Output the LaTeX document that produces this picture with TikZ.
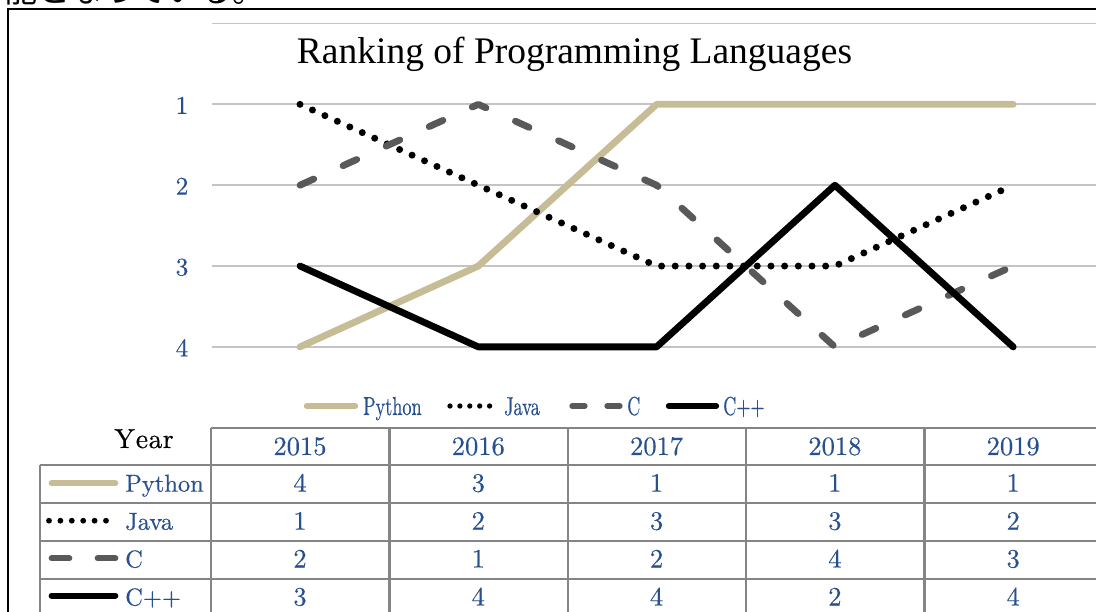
\documentclass[tikz,border=0pt]{standalone}
\usepackage{fontspec}
\newfontfamily\titlefont{Liberation Serif}
\newfontfamily\jpfont{Noto Sans CJK JP}
\newfontfamily\numfont{lmroman10-regular}[Extension=.otf, FakeBold=0.4]
\definecolor{pytan}{HTML}{C6BD96}
\definecolor{cgray}{HTML}{595959}
\definecolor{gridgray}{HTML}{C4C4C4}
\definecolor{tblgray}{HTML}{858585}
\definecolor{numblue}{HTML}{28508F}
\tikzset{
  gridline/.style={draw=gridgray, line width=1.8pt},
  tblline/.style={draw=tblgray, line width=2.2pt},
  pyline/.style={draw=pytan, line width=6.8pt, line cap=round, line join=round},
  javaline/.style={draw=black, line width=7pt, line cap=round, dash pattern=on 0pt off 13.673pt},
  cline/.style={draw=cgray, line width=6.8pt, line cap=round, line join=round, dash pattern=on 15pt off 32.3pt},
  cppline/.style={draw=black, line width=6.8pt, line cap=round, line join=round},
  numtxt/.style={text=numblue, inner sep=0pt, anchor=base, font=\numfont\fontsize{26.5}{30}\selectfont},
  axtxt/.style={text=numblue, inner sep=0pt, anchor=base, font=\numfont\fontsize{25.5}{30}\selectfont},
  legtxt/.style={text=numblue, inner sep=0pt, anchor=base west, font=\numfont\fontsize{24.5}{30}\selectfont},
  chartleg/.style={text=numblue, inner sep=0pt, anchor=base west, font=\numfont\fontsize{26}{30}\selectfont},
}
\newcommand{\condensed}[1]{\scalebox{0.7}[1]{#1}}
\begin{document}
\begin{tikzpicture}[x=1pt, y=-1pt]
\useasboundingbox (0,0) rectangle (1096,612);
\clip (0,0) rectangle (1096,612);

% running text above the frame
\node[anchor=base west, inner sep=0pt, font=\jpfont\fontsize{33}{36}\selectfont] (jp) at (-29,2.5) {可能となっている。};

% outer frame
\draw[line width=2pt] (8,640) -- (8,9.5) -- (1120,9.5);

% horizontal gridlines (rank 0 to 4)
\foreach \r in {0,...,4}
  \draw[gridline] (212,{23.5+80.85*\r}) -- (1100,{23.5+80.85*\r});

% axis labels
\foreach \r in {1,...,4}
  \node[axtxt] (ax\r) at (182,{23.5+80.85*\r+9.5}) {\r};

% title
\node[anchor=base, inner sep=0pt, font=\titlefont\fontsize{37.5}{42}\selectfont] (title) at (574.5,64) {Ranking of Programming Languages};

% data points: x by year, y by rank
\foreach \i/\x in {1/300,2/478.3,3/656.6,4/834.9,5/1013.2}{
  \foreach \r in {1,...,4}
    \coordinate (p\i r\r) at (\x,{23.5+80.85*\r});
}

% series
\draw[pyline] (p1r4) -- (p2r3) -- (p3r1) -- (p4r1) -- (p5r1);
\draw[javaline] (p1r1) -- (p2r2) -- (p3r3) -- (p4r3) -- (p5r2);
\draw[cline] (p1r2) -- (p2r1) -- (p3r2) -- (p4r4) -- (p5r3);
\draw[cppline] (p1r3) -- (p2r4) -- (p3r4) -- (p4r2) -- (p5r4);

% chart legend (horizontally condensed)
\coordinate (lgPa) at (306.5,406); \coordinate (lgPb) at (355.5,406);
\draw[pyline, line width=5.3pt] (lgPa) -- (lgPb);
\node[chartleg] (lgPt) at (363,415) {\condensed{Python}};
\coordinate (lgJa) at (450,406); \coordinate (lgJb) at (490,406);
\draw[javaline, line width=5.3pt, dash pattern=on 0pt off 9.9pt] (lgJa) -- (lgJb);
\node[chartleg] (lgJt) at (504,415) {\condensed{Java}};
\coordinate (lgCa) at (572,406); \coordinate (lgCb) at (620,406);
\draw[cline, line width=5.3pt, dash pattern=on 13pt off 22pt] (lgCa) -- (lgCb);
\node[chartleg] (lgCt) at (627,415) {\condensed{C}};
\coordinate (lgXa) at (668.5,406); \coordinate (lgXb) at (716.5,406);
\draw[cppline, line width=5.3pt] (lgXa) -- (lgXb);
\node[chartleg] (lgXt) at (723,415) {\condensed{C++}};

% data table grid
\draw[tblline] (211,428) -- (1100,428);
\foreach \yy in {465,503,541,579}
  \draw[tblline] (40,\yy) -- (1100,\yy);
\draw[tblline] (40,465) -- (40,640);
\foreach \xx in {211,389.5,568,746.3,924.5}
  \draw[tblline] (\xx,428) -- (\xx,640);

\node[anchor=base, inner sep=0pt, font=\numfont\fontsize{27.5}{32}\selectfont, text=black] (year) at (144,448) {Y\kern1pt e\kern0.5pt a\kern0.5pt r};

% header and values
\foreach \i/\x/\yr in {1/300/2015,2/478.3/2016,3/656.6/2017,4/834.9/2018,5/1013.2/2019}
  \node[numtxt] (hd\i) at (\x,455) {\yr};

\foreach \row/\yb/\vals in {1/491.7/{4,3,1,1,1},2/529.7/{1,2,3,3,2},3/567.5/{2,1,2,4,3},4/605.5/{3,4,4,2,4}}{
  \foreach \v [count=\c] in \vals
    \node[numtxt] (v\row c\c) at ({300+178.3*(\c-1)},\yb) {\v};
}

% row labels with line samples
\coordinate (tPa) at (51.5,483.3); \coordinate (tPb) at (115.5,483.3);
\draw[pyline, line width=5.7pt] (tPa) -- (tPb);
\node[legtxt] (tPt) at (125,491.7) {Python};
\coordinate (tJa) at (49,520.7); \coordinate (tJb) at (106,520.7);
\draw[javaline, line width=5.8pt, dash pattern=on 0pt off 11.4pt] (tJa) -- (tJb);
\node[legtxt] (tJt) at (125,529.7) {Java};
\coordinate (tCa) at (51.5,558.3); \coordinate (tCb) at (115.5,558.3);
\draw[cline, line width=5.7pt, dash pattern=on 18pt off 28pt] (tCa) -- (tCb);
\node[legtxt] (tCt) at (125,567.5) {C};
\coordinate (tXa) at (51.5,595.7); \coordinate (tXb) at (115.5,595.7);
\draw[cppline, line width=5.7pt] (tXa) -- (tXb);
\node[legtxt] (tXt) at (125,605.5) {C++};
\end{tikzpicture}
\end{document}
